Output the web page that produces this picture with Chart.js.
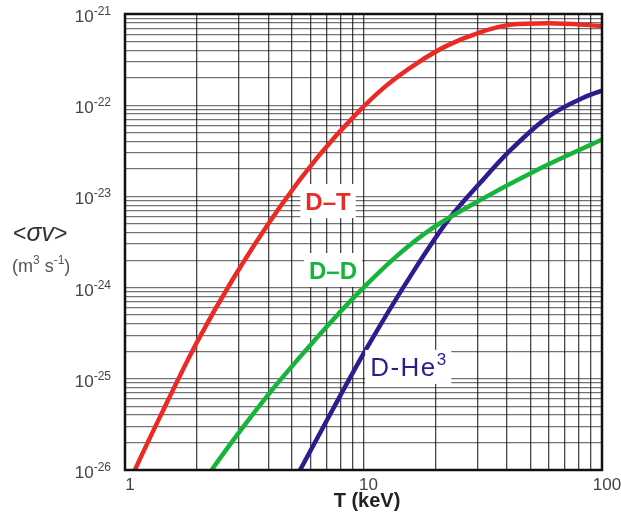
<!DOCTYPE html>
<html lang="en">
<head>
<meta charset="UTF-8">
<title>Fusion reactivity</title>
<script src="https://cdn.jsdelivr.net/npm/chart.js"></script>
<style>
  html, body { margin: 0; padding: 0; background: #fff; }
</style>
</head>
<body>
<canvas id="chart" width="621" height="521"></canvas>
<script>
// values (T in keV, <sigma v> in m^3/s)
const dtTemp  = [1.0, 1.1, 1.4, 2.0, 2.84, 4.47, 6.5, 9.4, 12.5, 16.8, 22.4, 30.8, 41, 60, 100];
const dtSigma = [5.7e-27, 1.0e-26, 3.8e-26, 2.5e-25, 1.25e-24, 7.7e-24, 2.8e-23, 8.2e-23, 1.65e-22, 2.9e-22, 4.5e-22, 6.3e-22, 7.6e-22, 7.9e-22, 7.4e-22];

const ddTemp  = [2.0, 2.34, 3.03, 4.18, 5.42, 7.45, 10, 14, 19, 30.8, 53.4, 100];
const ddSigma = [5.7e-27, 1.05e-26, 2.65e-26, 7.8e-26, 1.74e-25, 4.45e-25, 1.0e-24, 2.3e-24, 4.3e-24, 9.1e-24, 1.95e-23, 4.2e-23];

const dheTemp  = [5.0, 5.42, 7.45, 10.3, 16.1, 23, 30.8, 41, 60, 83, 100];
const dheSigma = [6.7e-27, 1.0e-26, 4.67e-26, 2.15e-25, 1.47e-24, 5.8e-24, 1.4e-23, 3.15e-23, 7.6e-23, 1.2e-22, 1.45e-22];

// axis decades
const xDecades = [1, 10, 100];
const yExponents = [-26, -25, -24, -23, -22, -21];

// curve labels, anchored in data coordinates
const labelNames = ['D–T', 'D–D', 'D-He'];
const labelTemp  = [7.1, 7.45, 15.4];
const labelSigma = [8.9e-24, 1.56e-24, 1.35e-25];

const RED = '#ec2a25', GREEN = '#17b43c', PURPLE = '#2f1b8e';
const FONT = '"Liberation Sans", Arial, sans-serif';

function pts(xs, ys) {
    return xs.map((x, i) => ({ x: x, y: ys[i] }));
}

// gridlines at 1..9 of every decade
function logTicks(minExp, maxExp) {
    const ticks = [];
    for (let e = minExp; e < maxExp; e++) {
        for (let m = 1; m <= 9; m++) {
            ticks.push({ value: parseFloat(m + 'e' + e) });
        }
    }
    ticks.push({ value: parseFloat('1e' + maxExp) });
    return ticks;
}

function setFont(ctx, r) {
    ctx.font = (r.style || '') + ' ' + (r.weight || '') + ' ' + r.size + 'px ' + FONT;
    ctx.letterSpacing = (r.spacing || 0) + 'px';
}

// draw a row of text pieces, some raised as superscripts
function measureRuns(ctx, runs) {
    let total = 0;
    runs.forEach(r => {
        setFont(ctx, r);
        r.w = ctx.measureText(r.t).width;
        total += r.w;
    });
    return total;
}

function drawRuns(ctx, runs, x, y, align) {
    const total = measureRuns(ctx, runs);
    let cx = align === 'right' ? x - total : align === 'center' ? x - total / 2 : x;
    ctx.textAlign = 'left';
    ctx.textBaseline = 'alphabetic';
    runs.forEach(r => {
        setFont(ctx, r);
        ctx.fillStyle = r.color;
        ctx.fillText(r.t, cx, y - (r.rise || 0));
        cx += r.w;
    });
    ctx.letterSpacing = '0px';
    return total;
}

const textPlugin = {
    id: 'texts',
    afterDatasetsDraw(chart) {
        const ctx = chart.ctx;
        const xs = chart.scales.x, ys = chart.scales.y;
        ctx.save();
        // curve labels on white boxes
        const colors = [RED, GREEN, PURPLE];
        labelNames.forEach((name, i) => {
            const px = xs.getPixelForValue(labelTemp[i]);
            const py = ys.getPixelForValue(labelSigma[i]);
            let runs;
            if (i < 2) {
                runs = [{ t: name, size: 24, weight: 'bold', color: colors[i] }];
            } else {
                runs = [{ t: name, size: 26, color: colors[i], spacing: 1.5 },
                        { t: '3', size: 17, color: colors[i], rise: 11 }];
            }
            const w = measureRuns(ctx, runs);
            ctx.fillStyle = '#fff';
            ctx.fillRect(px - w / 2 - 5, py - 17, w + 10, 34);
            drawRuns(ctx, runs, px, py + 9, 'center');
        });
        ctx.restore();
    },
    afterDraw(chart) {
        const ctx = chart.ctx;
        const a = chart.chartArea;
        const xs = chart.scales.x, ys = chart.scales.y;
        ctx.save();
        // frame
        ctx.strokeStyle = '#111';
        ctx.lineWidth = 2.5;
        ctx.strokeRect(a.left, a.top, a.right - a.left, a.bottom - a.top);

        // y tick labels 10^n
        yExponents.forEach(e => {
            const py = ys.getPixelForValue(Math.pow(10, e));
            drawRuns(ctx, [
                { t: '10', size: 17, color: '#444' },
                { t: String(e), size: 12, color: '#444', rise: 7 }
            ], 111, py + 8, 'right');
        });

        // x tick labels
        xDecades.forEach(v => {
            const px = xs.getPixelForValue(v);
            drawRuns(ctx, [{ t: String(v), size: 17, color: '#444' }], px + 5, a.bottom + 20, 'center');
        });

        // axis titles
        drawRuns(ctx, [{ t: 'T (keV)', size: 20, weight: 'bold', color: '#222' }], 367, 507, 'center');
        drawRuns(ctx, [
            { t: '<', size: 23, color: '#333' },
            { t: 'σv', size: 25, style: 'italic', color: '#333' },
            { t: '>', size: 23, color: '#333' }
        ], 13, 241, 'left');
        drawRuns(ctx, [
            { t: '(m', size: 18, color: '#555' },
            { t: '3', size: 12, color: '#555', rise: 8 },
            { t: ' s', size: 18, color: '#555' },
            { t: '-1', size: 12, color: '#555', rise: 8 },
            { t: ')', size: 18, color: '#555' }
        ], 12, 272, 'left');
        ctx.restore();
    }
};

const lineStyle = {
    borderWidth: 4.5,
    pointRadius: 0,
    fill: false,
    cubicInterpolationMode: 'monotone',
    clip: 0
};

new Chart(document.getElementById('chart'), {
    type: 'line',
    data: {
        datasets: [
            Object.assign({ label: 'D-T', data: pts(dtTemp, dtSigma), borderColor: RED }, lineStyle),
            Object.assign({ label: 'D-D', data: pts(ddTemp, ddSigma), borderColor: GREEN }, lineStyle),
            Object.assign({ label: 'D-He3', data: pts(dheTemp, dheSigma), borderColor: PURPLE }, lineStyle)
        ]
    },
    options: {
        responsive: false,
        animation: false,
        layout: { padding: { left: 125, top: 14, right: 19, bottom: 51 } },
        plugins: { legend: { display: false }, tooltip: { enabled: false } },
        scales: {
            x: {
                type: 'logarithmic',
                min: 1,
                max: 100,
                afterBuildTicks: s => { s.ticks = logTicks(0, 2); },
                ticks: { display: false },
                grid: { color: 'rgba(0,0,0,0.72)', lineWidth: 1.3, drawTicks: false },
                border: { display: false }
            },
            y: {
                type: 'logarithmic',
                min: 1e-26,
                max: 1e-21,
                afterBuildTicks: s => { s.ticks = logTicks(-26, -21); },
                ticks: { display: false },
                grid: { color: 'rgba(0,0,0,0.55)', lineWidth: 1.2, drawTicks: false },
                border: { display: false }
            }
        }
    },
    plugins: [textPlugin]
});
</script>
</body>
</html>
